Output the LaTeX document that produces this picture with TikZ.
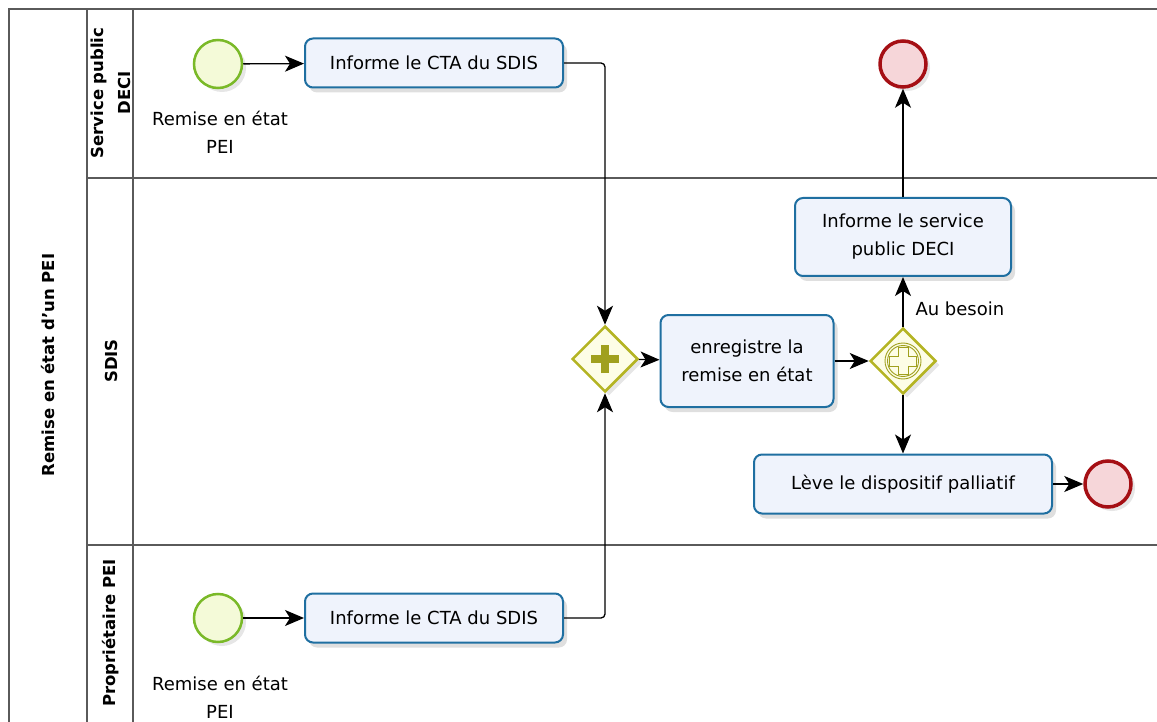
\documentclass[tikz,border=0pt]{standalone}
\usepackage{fontspec}
\setmainfont{DejaVu Sans}
\usepackage{tikz}
\usetikzlibrary{shapes.geometric,shadows,arrows.meta}

\definecolor{taskline}{RGB}{31,111,161}
\definecolor{taskfill}{RGB}{239,243,252}
\definecolor{startline}{RGB}{122,185,40}
\definecolor{startfill}{RGB}{244,250,216}
\definecolor{endline}{RGB}{165,15,20}
\definecolor{endfill}{RGB}{246,214,217}
\definecolor{gateline}{RGB}{180,180,35}
\definecolor{gatefill}{RGB}{253,253,230}
\definecolor{plusc}{RGB}{160,160,30}
\definecolor{poolline}{RGB}{90,90,90}

\newcommand{\bpmnfont}{\fontsize{18}{28}\selectfont}
\newcommand{\lanefont}{\bfseries\fontsize{16.5}{27}\selectfont}

\begin{document}
\begin{tikzpicture}[x=1pt, y=-1pt,
    task/.style={draw=taskline, fill=taskfill, line width=2pt, rounded corners=8pt, align=center, font=\bpmnfont, inner sep=0pt,
      drop shadow={shadow xshift=4pt, shadow yshift=-5pt, opacity=0.25}},
    startev/.style={circle, draw=startline, fill=startfill, line width=2.5pt, minimum size=48pt, inner sep=0pt,
      drop shadow={shadow xshift=4pt, shadow yshift=-4pt, opacity=0.2}},
    endev/.style={circle, draw=endline, fill=endfill, line width=3.5pt, minimum size=46pt, inner sep=0pt,
      drop shadow={shadow xshift=4pt, shadow yshift=-4pt, opacity=0.2}},
    gate/.style={diamond, aspect=1, draw=gateline, fill=gatefill, line width=2.5pt, minimum width=66pt, minimum height=66pt, inner sep=0pt,
      drop shadow={shadow xshift=4pt, shadow yshift=-4pt, opacity=0.2}},
    evlabel/.style={align=center, font=\bpmnfont},
    lanelabel/.style={rotate=90, align=center, font=\lanefont},
    flow/.style={-{Stealth[length=19pt, width=16pt, inset=5pt]}, line width=1.3pt, rounded corners=4pt}]
    \useasboundingbox (0,0) rectangle (1157,722);
    % pool and lanes
    \draw [poolline, line width=1.6pt] (9,722) -- (9,9) -- (1157,9);
    \draw [poolline, line width=1.6pt] (87,9) -- (87,722);
    \draw [poolline, line width=1.6pt] (133,9) -- (133,722);
    \draw [poolline, line width=1.6pt] (87,178) -- (1157,178);
    \draw [poolline, line width=1.6pt] (87,545) -- (1157,545);
    \node [lanelabel] (pool) at (48,365) {Remise en état d'un PEI};
    \node [lanelabel] (deci) at (111,93) {Service public\\DECI};
    \node [lanelabel] (sdis) at (111,361) {SDIS};
    \node [lanelabel] (prop) at (111,633) {Propriétaire PEI};
    % events, tasks and gateways
    \node [startev] (start1) at (218,64) {};
    \node [evlabel] (start1lbl) at (220,132) {Remise en état\\PEI};
    \node [task, minimum width=258pt, minimum height=49pt] (cta1) at (434,63) {Informe le CTA du SDIS};
    \node [startev] (start2) at (218,618) {};
    \node [evlabel] (start2lbl) at (220,697) {Remise en état\\PEI};
    \node [task, minimum width=258pt, minimum height=49pt] (cta2) at (434,618) {Informe le CTA du SDIS};
    \node [gate] (join) at (605,359) {};
    \draw [plusc, line width=8pt] ([xshift=-14pt]join.center) -- ([xshift=14pt]join.center);
    \draw [plusc, line width=8pt] ([yshift=-14pt]join.center) -- ([yshift=14pt]join.center);
    \node [task, minimum width=173pt, minimum height=92pt] (record) at (747,361) {enregistre la\\remise en état};
    \node [gate] (split) at (903,361) {};
    \draw [plusc, line width=0.9pt] (split.center) circle (18pt) (split.center) circle (15.5pt);
    \draw [plusc, line width=0.9pt] (split.center) ++(-5,-13.5) -- ++(10,0) -- ++(0,8.5) -- ++(8.5,0) -- ++(0,10) -- ++(-8.5,0)
      -- ++(0,8.5) -- ++(-10,0) -- ++(0,-8.5) -- ++(-8.5,0) -- ++(0,-10) -- ++(8.5,0) -- cycle;
    \node [task, minimum width=216pt, minimum height=78pt] (inform) at (903,237) {Informe le service\\public DECI};
    \node [endev] (end1) at (903,64) {};
    \node [task, minimum width=298pt, minimum height=59pt] (lift) at (903,484) {Lève le dispositif palliatif};
    \node [endev] (end2) at (1108,484) {};
    \node [anchor=west, font=\bpmnfont] (besoin) at (912,309) {Au besoin};
    % sequence flows
    \draw [flow] (start1) -- (cta1);
    \draw [flow] (start2) -- (cta2);
    \draw [flow] (cta1.east) -| (join.north);
    \draw [flow] (cta2.east) -| (join.south);
    \draw [flow] (join) -- (record);
    \draw [flow] (record) -- (split);
    \draw [flow] (split.north) -- (inform.south);
    \draw [flow] (inform.north) -- (end1.south);
    \draw [flow] (split.south) -- (lift.north);
    \draw [flow] (lift) -- (end2);
\end{tikzpicture}
\end{document}
